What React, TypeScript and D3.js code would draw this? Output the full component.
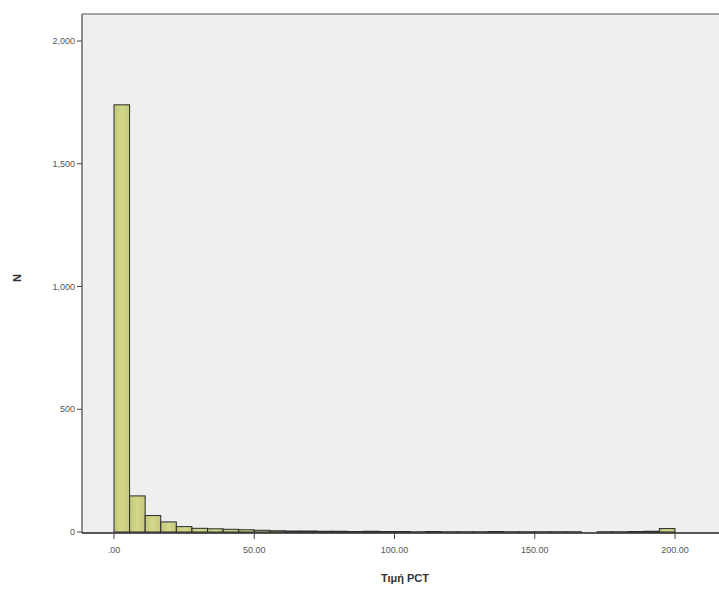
import React from "react";
import * as d3 from "d3";

// Histogram of PCT values: 36 equal bins spanning 0–200
const binStart = 0;
const binEnd = 200;
const binCounts = [
  1740, 147, 67, 41, 22, 15, 13, 11, 9, 7, 5, 4, 4, 3, 3, 2, 3, 2,
  2, 1, 2, 1, 1, 1, 2, 1, 1, 1, 1, 1, 0, 1, 1, 2, 3, 14,
];
const xTicks = [0, 50, 100, 150, 200];
const xTickLabels = [".00", "50.00", "100.00", "150.00", "200.00"];
const yTicks = [0, 500, 1000, 1500, 2000];
const yTickLabels = ["0", "500", "1,000", "1,500", "2,000"];
const xTitle = "Τιμή PCT";
const yTitle = "N";

const W = 719;
const H = 592;
const plot = { left: 82, top: 14, right: 719, bottom: 533 };

export default function App() {
  const x = d3.scaleLinear().domain([0, 200]).range([114, 675]);
  const y = d3.scaleLinear().domain([0, 2000]).range([532, 41]);
  const binW = (binEnd - binStart) / binCounts.length;
  const bins = binCounts.map((c, i) => ({
    x0: binStart + i * binW,
    x1: binStart + (i + 1) * binW,
    c,
  }));
  const font = "Arial, 'Liberation Sans', sans-serif";

  return (
    <svg
      width={W}
      height={H}
      style={{ position: "absolute", left: 0, top: 0, background: "#fff" }}
    >
      <defs>
        <linearGradient id="barFill" x1="0" x2="1" y1="0" y2="0">
          <stop offset="0" stopColor="#c2c874" />
          <stop offset="0.5" stopColor="#d3d88e" />
          <stop offset="1" stopColor="#c4ca78" />
        </linearGradient>
      </defs>
      {/* plot area background */}
      <rect
        x={plot.left}
        y={plot.top}
        width={plot.right - plot.left}
        height={plot.bottom - plot.top}
        fill="#efefef"
      />
      <line
        x1={plot.left}
        x2={plot.right}
        y1={plot.top}
        y2={plot.top}
        stroke="#8a8a8a"
        strokeWidth={1.5}
      />
      {/* bars */}
      {bins.map((b, i) =>
        b.c > 0 ? (
          <rect
            key={i}
            x={x(b.x0)}
            y={y(b.c)}
            width={x(b.x1) - x(b.x0)}
            height={y(0) - y(b.c)}
            fill="url(#barFill)"
            stroke="#2a2a2a"
            strokeWidth={1}
          />
        ) : null
      )}
      {/* y axis */}
      <line
        x1={plot.left}
        x2={plot.left}
        y1={plot.top}
        y2={plot.bottom}
        stroke="#444"
        strokeWidth={1.2}
      />
      {yTicks.map((t, i) => (
        <g key={t}>
          <line
            x1={plot.left - 5}
            x2={plot.left}
            y1={y(t)}
            y2={y(t)}
            stroke="#444"
          />
          <text
            x={plot.left - 7}
            y={y(t)}
            dy="0.35em"
            textAnchor="end"
            fontSize={9}
            fontFamily={font}
            fill="#555"
          >
            {yTickLabels[i]}
          </text>
        </g>
      ))}
      {/* x axis */}
      <line
        x1={plot.left}
        x2={plot.right}
        y1={plot.bottom}
        y2={plot.bottom}
        stroke="#222"
        strokeWidth={1.5}
      />
      {xTicks.map((t, i) => (
        <g key={t}>
          <line
            x1={x(t)}
            x2={x(t)}
            y1={plot.bottom}
            y2={plot.bottom + 6}
            stroke="#444"
          />
          <text
            x={x(t)}
            y={plot.bottom + 20}
            textAnchor="middle"
            fontSize={9}
            fontFamily={font}
            fill="#555"
          >
            {xTickLabels[i]}
          </text>
        </g>
      ))}
      <text
        x={405}
        y={582}
        textAnchor="middle"
        fontSize={11}
        fontWeight="bold"
        fontFamily={font}
        fill="#333"
      >
        {xTitle}
      </text>
      <text
        transform={`translate(21, 278) rotate(-90)`}
        textAnchor="middle"
        fontSize={11}
        fontWeight="bold"
        fontFamily={font}
        fill="#333"
      >
        {yTitle}
      </text>
    </svg>
  );
}
